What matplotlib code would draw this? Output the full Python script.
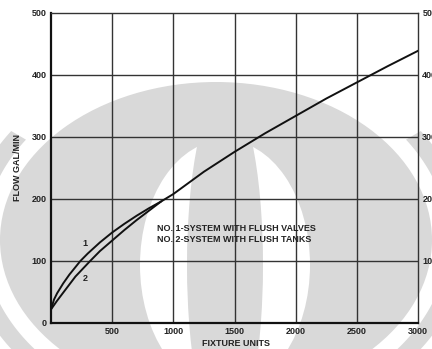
import numpy as np
import matplotlib
matplotlib.use("Agg")
import matplotlib.pyplot as plt
from matplotlib.patches import Ellipse, Polygon

# ----------- DATA -------------------------------------- #
fu_valves = [0, 25, 50, 100, 150, 240, 300, 400, 500, 600, 700, 800, 900,
             1000, 1250, 1500, 1750, 2000, 2250, 2500, 2750, 3000]
gpm_valves = [22, 38, 48, 64, 78, 100, 112, 130, 146, 160, 173, 185, 196,
              208, 244, 276, 306, 334, 362, 388, 414, 439]
fu_tanks = [0, 50, 100, 200, 320, 400, 500, 600, 700, 800, 900]
gpm_tanks = [22, 36, 49, 75, 100, 116, 133, 150, 166, 181, 196]

x_ticks = [500, 1000, 1500, 2000, 2500, 3000]
y_ticks = [0, 100, 200, 300, 400, 500]
legend_lines = ["NO. 1-SYSTEM WITH FLUSH VALVES", "NO. 2-SYSTEM WITH FLUSH TANKS"]

FONT = "Liberation Sans"
GRAY = "#d9d9d9"
INK = "#222222"
FS = 6.5

W, H = 432, 349
fig = plt.figure(figsize=(W / 100, H / 100), dpi=100)

# ----------- background watermark (pixel coords, y down) ------------- #
bg = fig.add_axes([0, 0, 1, 1])
bg.set_xlim(0, W)
bg.set_ylim(H, 0)
bg.axis("off")


def ring(cx, cy, a1, b1, a2, b2, t0, t1):
    t = np.radians(np.linspace(t0, t1, 80))
    outer = np.c_[cx + a1 * np.cos(t), cy + b1 * np.sin(t)]
    inner = np.c_[cx + a2 * np.cos(t[::-1]), cy + b2 * np.sin(t[::-1])]
    return np.vstack([outer, inner])


bg.add_patch(Polygon(ring(216, 240, 250, 190, 232, 175, 120, 215), color=GRAY, lw=0))
bg.add_patch(Polygon(ring(216, 240, 250, 190, 232, 175, -35, 60), color=GRAY, lw=0))
bg.add_patch(Ellipse((216, 240), 432, 316, color=GRAY, lw=0))
bg.add_patch(Ellipse((225, 265), 170, 250, color="white", lw=0))
bg.add_patch(Ellipse((225, 265), 76, 350, color=GRAY, lw=0))

# ----------- chart ------------- #
ax = fig.add_axes([51 / W, 1 - 323 / H, 367 / W, 310 / H])
ax.patch.set_alpha(0)
ax.set_xlim(0, 3000)
ax.set_ylim(0, 500)

for xv in x_ticks[:-1]:
    ax.axvline(xv, color="#333333", lw=1.0, zorder=1)
for yv in y_ticks[1:-1]:
    ax.axhline(yv, color="#333333", lw=1.0, zorder=1)

ax.plot(fu_valves, gpm_valves, color="#111111", lw=1.4, zorder=3)
ax.plot(fu_tanks, gpm_tanks, color="#111111", lw=1.4, zorder=3)

for side in ["left", "bottom"]:
    ax.spines[side].set_linewidth(1.6)
    ax.spines[side].set_color("#111111")
for side in ["top", "right"]:
    ax.spines[side].set_linewidth(1.0)
    ax.spines[side].set_color("#333333")

ax.set_xticks(x_ticks)
ax.set_yticks(y_ticks)
ax.tick_params(length=0, labelsize=FS, colors=INK, pad=3)
for lab in ax.get_xticklabels() + ax.get_yticklabels():
    lab.set_family(FONT)
    lab.set_fontweight("bold")

txt = dict(fontsize=FS, family=FONT, color=INK, fontweight="bold")

# right hand labels, cut by the image edge as in the reference
for yv in y_ticks[1:]:
    ax.text(3035, yv, str(yv), ha="left", va="center", clip_on=False, **txt)

ax.text(278, 129, "1", ha="center", va="center", **txt)
ax.text(278, 71, "2", ha="center", va="center", **txt)
ax.text(867, 152, legend_lines[0], ha="left", va="center", **txt)
ax.text(867, 134, legend_lines[1], ha="left", va="center", **txt)

fig.text(236 / W, 1 - 343 / H, "FIXTURE UNITS", ha="center", va="center", **txt)
fig.text(18 / W, 1 - 168 / H, "FLOW GAL/MIN", ha="center", va="center",
         rotation=90, **txt)

fig.savefig("out.png", dpi=100)
